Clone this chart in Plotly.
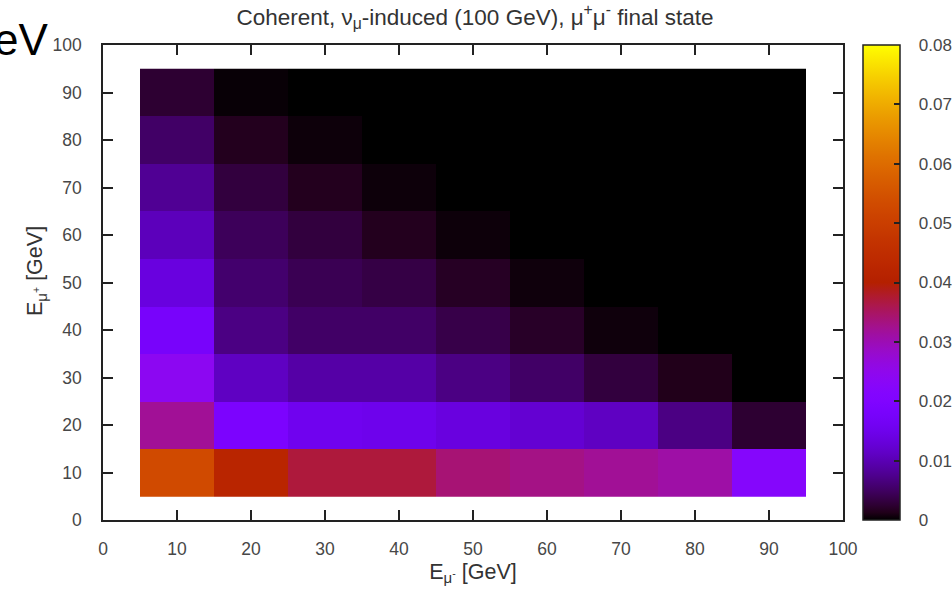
import math
import plotly.graph_objects as go

# ---- data ----
e_mu_minus = [10, 20, 30, 40, 50, 60, 70, 80, 90]   # x bin centres [GeV]
e_mu_plus = [10, 20, 30, 40, 50, 60, 70, 80, 90]    # y bin centres [GeV]

row_10 = [0.053, 0.042, 0.037, 0.037, 0.034, 0.033, 0.032, 0.031, 0.022]
row_20 = [0.032, 0.019, 0.0155, 0.015, 0.0136, 0.0123, 0.011, 0.0069, 0.0025]
row_30 = [0.024, 0.011, 0.009, 0.009, 0.0069, 0.0052, 0.0031, 0.0013, 0.0]
row_40 = [0.0177, 0.0069, 0.0052, 0.0052, 0.0037, 0.002, 0.0006, 0.0, 0.0]
row_50 = [0.0136, 0.0056, 0.0042, 0.0035, 0.0018, 0.0006, 0.0, 0.0, 0.0]
row_60 = [0.0105, 0.0046, 0.0031, 0.0015, 0.0005, 0.0, 0.0, 0.0, 0.0]
row_70 = [0.0079, 0.0031, 0.0015, 0.0005, 0.0, 0.0, 0.0, 0.0, 0.0]
row_80 = [0.0052, 0.0015, 0.0005, 0.0, 0.0, 0.0, 0.0, 0.0, 0.0]
row_90 = [0.0025, 0.0003, 0.0, 0.0, 0.0, 0.0, 0.0, 0.0, 0.0]
z_rows = [row_10, row_20, row_30, row_40, row_50, row_60, row_70, row_80, row_90]

cb_ticks = [0, 0.01, 0.02, 0.03, 0.04, 0.05, 0.06, 0.07, 0.08]
cb_labels = ["0", "0.01", "0.02", "0.03", "0.04", "0.05", "0.06", "0.07", "0.08"]
axis_ticks = [0, 10, 20, 30, 40, 50, 60, 70, 80, 90, 100]

# gnuplot default pm3d palette (rgbformulae 7,5,15)
def pal(t):
    r = math.sqrt(t)
    g = t ** 3
    b = max(0.0, math.sin(2 * math.pi * t))
    return "rgb(%d,%d,%d)" % (round(255 * r), round(255 * g), round(255 * b))

N = 64
colorscale = [[i / N, pal(i / N)] for i in range(N + 1)]

FONT = "Liberation Sans, Arial, sans-serif"
TXT = "#474747"
PAD = "\u00a0\u00a0\u00a0"

fig = go.Figure()
fig.add_trace(go.Heatmap(
    x=e_mu_minus, y=e_mu_plus, z=z_rows,
    zmin=0, zmax=0.08, colorscale=colorscale,
    colorbar=dict(
        x=1.027, xanchor="left", xref="paper",
        y=0.5, yanchor="middle", len=1.0, lenmode="fraction",
        thickness=37, thicknessmode="pixels",
        outlinecolor="#222", outlinewidth=1.5,
        tickvals=cb_ticks, ticktext=[PAD + s for s in cb_labels],
        ticks="inside", ticklen=6, tickcolor="#222", tickwidth=1.5,
        tickfont=dict(family=FONT, size=17, color=TXT),
        xpad=0, ypad=0,
    ),
    hoverinfo="skip",
))

axis_common = dict(
    range=[0, 100], tickvals=axis_ticks, ticks="inside", ticklen=10,
    tickwidth=1.5, tickcolor="#222", showline=True, linecolor="#222",
    linewidth=1.5, mirror="ticks", showgrid=False, zeroline=False,
    tickfont=dict(family=FONT, size=17.5, color=TXT),
)

fig.update_layout(
    width=952, height=590,
    margin=dict(l=103, r=109, t=45, b=70, autoexpand=False),
    paper_bgcolor="white", plot_bgcolor="white",
    title=dict(
        text="Coherent, ν<sub>μ</sub>-induced (100 GeV), μ<sup>+</sup>μ<sup>-</sup> final state",
        x=(475) / 952, xref="container", xanchor="center",
        y=1 - 9 / 590, yref="container", yanchor="top",
        font=dict(family=FONT, size=22.5, color="#333"),
    ),
    xaxis=dict(axis_common, ticklabelstandoff=12,
               title=dict(text="E<sub>μ<sup>-</sup></sub> [GeV]",
                          font=dict(family=FONT, size=21.5, color="#333"),
                          standoff=6)),
    yaxis=dict(axis_common, ticklabelstandoff=16),
    annotations=[
        dict(
            text="eV", xref="paper", yref="paper", x=-111 / 740, y=1 + 6 / 475,
            xanchor="left", yanchor="middle", showarrow=False,
            font=dict(family=FONT, size=44, color="black"),
        ),
        dict(
            text="E<sub>μ<sup>+</sup></sub> [GeV]", textangle=-90,
            xref="paper", yref="paper", x=(36 - 103) / 740, y=1 - (271 - 45) / 475,
            xanchor="center", yanchor="middle", showarrow=False,
            font=dict(family=FONT, size=21.5, color="#333"),
        ),
    ],
)

fig.write_html("out.html")
